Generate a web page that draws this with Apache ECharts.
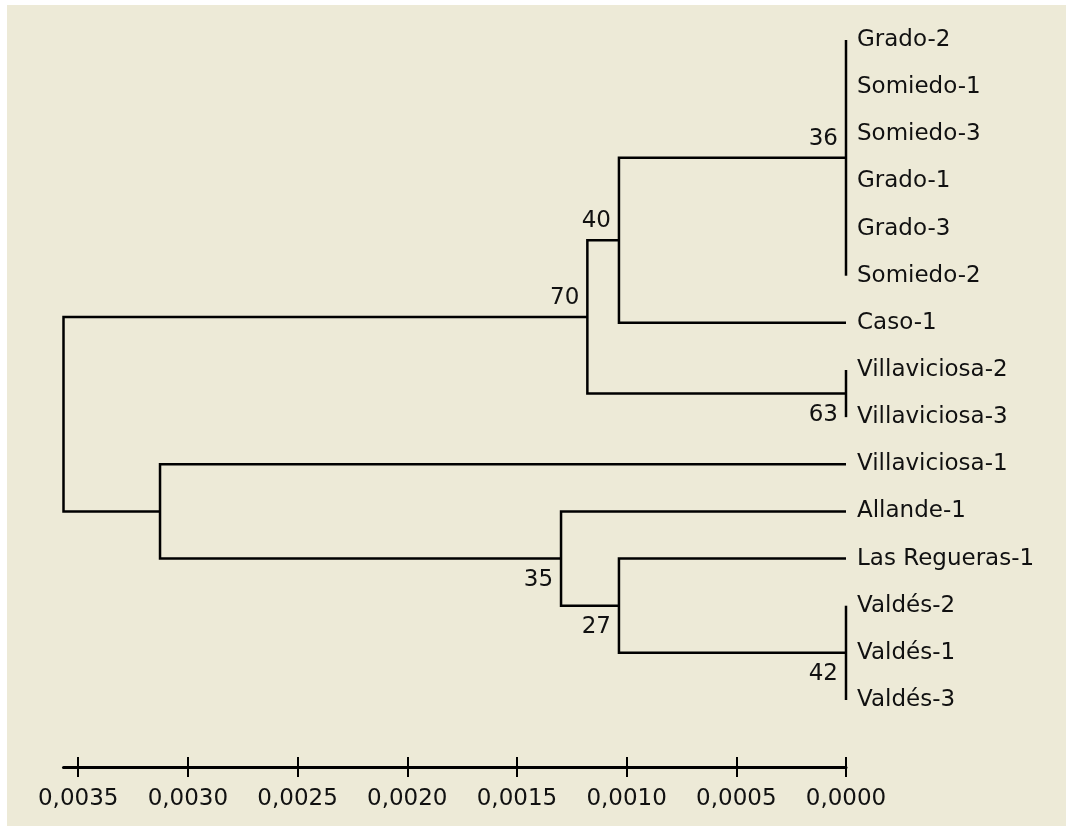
<!DOCTYPE html>
<html>
<head>
<meta charset="utf-8">
<script src="https://cdn.jsdelivr.net/npm/echarts@6/dist/echarts.min.js"></script>
<style>
    html, body { margin: 0; padding: 0; background: #fff; }
    #tree { position: absolute; left: 7px; top: 5px; width: 1059px; height: 821px; }
</style>
</head>
<body>
<div id="tree"></div>
<script>
// hojas, de arriba abajo
var leafNames = ['Grado-2', 'Somiedo-1', 'Somiedo-3', 'Grado-1', 'Grado-3', 'Somiedo-2', 'Caso-1',
    'Villaviciosa-2', 'Villaviciosa-3', 'Villaviciosa-1', 'Allande-1', 'Las Regueras-1',
    'Valdés-2', 'Valdés-1', 'Valdés-3'];

// nodos internos
var nodeIds = ['n36', 'n40', 'n63', 'n70', 'n42', 'n27', 'n35', 'n31', 'root'];
var nodeHeights = [0, 0.001035, 0, 0.001179, 0, 0.001035, 0.001299, 0.003127, 0.003567];
var nodeChildren = [
    ['Grado-2', 'Somiedo-1', 'Somiedo-3', 'Grado-1', 'Grado-3', 'Somiedo-2'],
    ['n36', 'Caso-1'],
    ['Villaviciosa-2', 'Villaviciosa-3'],
    ['n40', 'n63'],
    ['Valdés-2', 'Valdés-1', 'Valdés-3'],
    ['Las Regueras-1', 'n42'],
    ['Allande-1', 'n27'],
    ['Villaviciosa-1', 'n35'],
    ['n70', 'n31']
];
var nodeSupport = [36, 40, 63, 70, 42, 27, 35, null, null];
var supportSide = ['above', 'above', 'below', 'above', 'below', 'below', 'below', null, null];

// eje
var tickValues = [0, 0.0005, 0.0010, 0.0015, 0.0020, 0.0025, 0.0030, 0.0035];
var tickLabels = ['0,0000', '0,0005', '0,0010', '0,0015', '0,0020', '0,0025', '0,0030', '0,0035'];

var FONT = '"DejaVu Sans", Verdana, sans-serif';
var MAXH = 0.003567;

// posicion (altura, fila) de un nodo u hoja
function pos(id) {
    var li = leafNames.indexOf(id);
    if (li >= 0) return { h: 0, y: li };
    var ni = nodeIds.indexOf(id);
    var ch = nodeChildren[ni];
    var a = pos(ch[0]), b = pos(ch[ch.length - 1]);
    return { h: nodeHeights[ni], y: (a.y + b.y) / 2 };
}

var seriesData = [];
for (var i = 0; i < nodeIds.length; i++) {
    var p = pos(nodeIds[i]);
    seriesData.push([p.h, p.y, i]);
}

function renderNode(params, api) {
    var ni = api.value(2);
    var me = api.coord([api.value(0), api.value(1)]);
    var ch = nodeChildren[ni];
    var pts = ch.map(function (c) { var q = pos(c); return api.coord([q.h, q.y]); });
    var style = { stroke: '#000', lineWidth: 2.5, fill: null };
    var children = [];
    var first = pts[0], last = pts[pts.length - 1];
    children.push({
        type: 'polyline',
        shape: { points: [[first[0], first[1]], [me[0], first[1]], [me[0], last[1]], [last[0], last[1]]] },
        style: style
    });
    for (var k = 1; k < pts.length - 1; k++) {
        children.push({ type: 'line', shape: { x1: me[0], y1: pts[k][1], x2: pts[k][0], y2: pts[k][1] }, style: style });
    }
    if (nodeSupport[ni] != null) {
        children.push({
            type: 'text',
            style: {
                text: String(nodeSupport[ni]),
                x: me[0] - 8,
                y: me[1] + (supportSide[ni] === 'above' ? -19 : 21),
                align: 'right',
                verticalAlign: 'middle',
                font: '23px ' + FONT,
                fill: '#111'
            }
        });
    }
    return { type: 'group', children: children };
}

var chart = echarts.init(document.getElementById('tree'));
var gridBox = { left: 56.5, right: 220, top: 35, height: 660 };
chart.setOption({
    backgroundColor: '#EDEAD7',
    animation: false,
    grid: [gridBox, gridBox],
    xAxis: [
        {
            // marcas y etiquetas
            gridIndex: 0, type: 'value', inverse: true, min: 0, max: MAXH,
            position: 'bottom', offset: 57,
            splitLine: { show: false },
            axisLine: { show: false, onZero: false },
            axisTick: { show: true, inside: false, length: 20, customValues: tickValues, lineStyle: { color: '#000', width: 2 } },
            axisLabel: {
                customValues: tickValues, margin: 31, color: '#111', fontSize: 23, fontFamily: FONT,
                formatter: function (v) {
                    for (var j = 0; j < tickValues.length; j++) {
                        if (Math.abs(tickValues[j] - v) < 1e-9) return tickLabels[j];
                    }
                    return '';
                }
            }
        },
        {
            // linea del eje
            gridIndex: 1, type: 'value', inverse: true, min: 0, max: MAXH,
            position: 'bottom', offset: 67,
            splitLine: { show: false },
            axisLine: { show: true, onZero: false, lineStyle: { color: '#000', width: 3 } },
            axisTick: { show: false },
            axisLabel: { show: false }
        }
    ],
    yAxis: [
        { gridIndex: 0, type: 'value', min: 0, max: leafNames.length - 1, inverse: true, show: false },
        {
            gridIndex: 0, type: 'category', data: leafNames, boundaryGap: false, inverse: true, position: 'right',
            axisLine: { show: false }, axisTick: { show: false }, splitLine: { show: false },
            axisLabel: { interval: 0, margin: 11, color: '#111', fontSize: 23, fontFamily: FONT }
        },
        { gridIndex: 1, type: 'value', min: 0, max: 1, show: false }
    ],
    series: [{
        type: 'custom',
        xAxisIndex: 0,
        yAxisIndex: 0,
        data: seriesData,
        encode: { x: 0, y: 1 },
        renderItem: renderNode,
        clip: false
    }]
});
</script>
</body>
</html>
